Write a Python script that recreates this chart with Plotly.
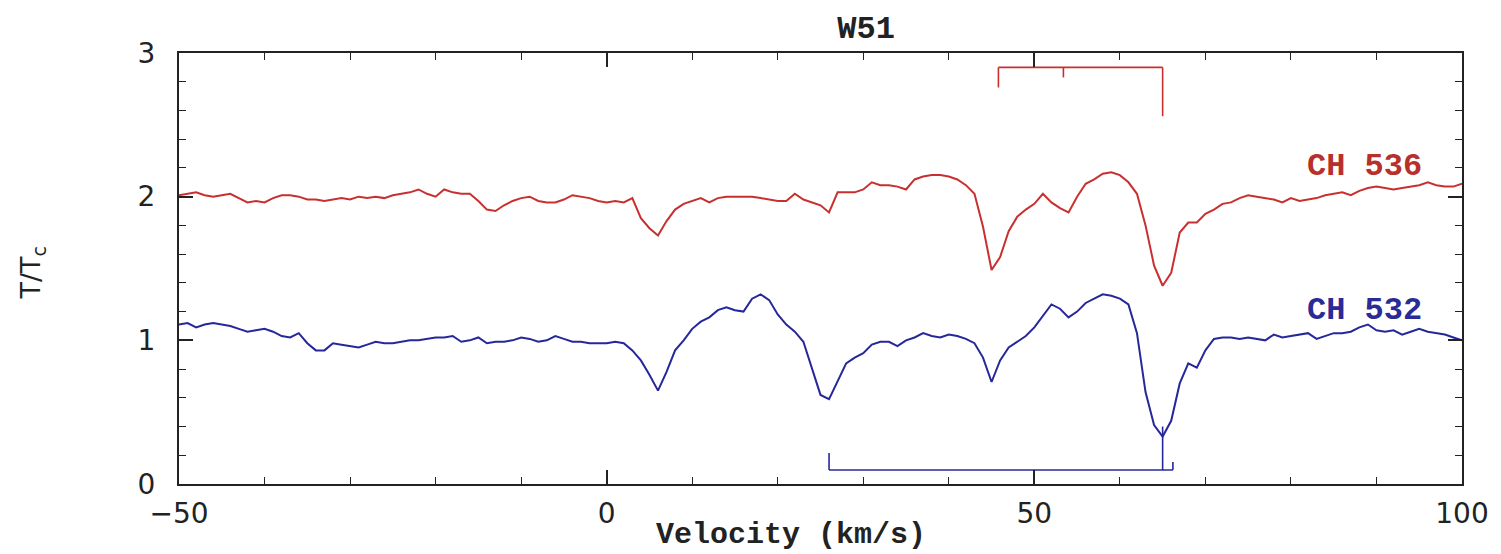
import plotly.graph_objects as go

# ---------------- data ----------------
velocity = list(range(-50, 101))

ch536 = [2.01, 2.02, 2.03, 2.01, 2.00, 2.01, 2.02, 1.99, 1.96, 1.97,   # -50..-41
         1.96, 1.99, 2.01, 2.01, 2.00, 1.98, 1.98, 1.97, 1.98, 1.99,   # -40..-31
         1.98, 2.00, 1.99, 2.00, 1.99, 2.01, 2.02, 2.03, 2.05, 2.02,   # -30..-21
         2.00, 2.05, 2.03, 2.02, 2.02, 1.97, 1.91, 1.90, 1.94, 1.97,   # -20..-11
         1.99, 2.00, 1.97, 1.96, 1.96, 1.98, 2.01, 2.00, 1.99, 1.97,   # -10..-1
         1.96, 1.97, 1.96, 1.99, 1.85, 1.78, 1.73, 1.83, 1.91, 1.95,   # 0..9
         1.97, 1.99, 1.96, 1.99, 2.00, 2.00, 2.00, 2.00, 1.99, 1.98,   # 10..19
         1.97, 1.97, 2.02, 1.98, 1.96, 1.94, 1.89, 2.03, 2.03, 2.03,   # 20..29
         2.05, 2.10, 2.08, 2.08, 2.07, 2.05, 2.12, 2.14, 2.15, 2.15,   # 30..39
         2.14, 2.12, 2.08, 2.02, 1.79, 1.49, 1.58, 1.76, 1.86, 1.91,   # 40..49
         1.95, 2.02, 1.96, 1.92, 1.89, 2.00, 2.09, 2.12, 2.16, 2.17,   # 50..59
         2.15, 2.10, 2.02, 1.80, 1.52, 1.38, 1.47, 1.75, 1.82, 1.82,   # 60..69
         1.88, 1.91, 1.95, 1.96, 1.99, 2.01, 2.00, 1.99, 1.98, 1.96,   # 70..79
         1.99, 1.97, 1.98, 1.99, 2.01, 2.02, 2.03, 2.01, 2.04, 2.06,   # 80..89
         2.07, 2.06, 2.05, 2.06, 2.07, 2.08, 2.10, 2.08, 2.07, 2.07,   # 90..99
         2.09]                                                         # 100

ch532 = [1.11, 1.12, 1.09, 1.11, 1.12, 1.11, 1.10, 1.08, 1.06, 1.07,   # -50..-41
         1.08, 1.06, 1.03, 1.02, 1.05, 0.98, 0.93, 0.93, 0.98, 0.97,   # -40..-31
         0.96, 0.95, 0.97, 0.99, 0.98, 0.98, 0.99, 1.00, 1.00, 1.01,   # -30..-21
         1.02, 1.02, 1.03, 0.99, 1.00, 1.02, 0.98, 0.99, 0.99, 1.00,   # -20..-11
         1.02, 1.01, 0.99, 1.00, 1.03, 1.01, 0.99, 0.99, 0.98, 0.98,   # -10..-1
         0.98, 0.99, 0.98, 0.93, 0.86, 0.76, 0.65, 0.78, 0.93, 1.00,   # 0..9
         1.08, 1.13, 1.16, 1.21, 1.23, 1.21, 1.20, 1.29, 1.32, 1.28,   # 10..19
         1.18, 1.11, 1.06, 0.99, 0.80, 0.62, 0.59, 0.72, 0.84, 0.88,   # 20..29
         0.91, 0.97, 0.99, 0.99, 0.96, 1.00, 1.02, 1.05, 1.03, 1.02,   # 30..39
         1.04, 1.03, 1.01, 0.98, 0.88, 0.71, 0.86, 0.95, 0.99, 1.03,   # 40..49
         1.09, 1.17, 1.25, 1.22, 1.16, 1.20, 1.26, 1.29, 1.32, 1.31,   # 50..59
         1.29, 1.25, 1.05, 0.64, 0.41, 0.33, 0.44, 0.70, 0.84, 0.81,   # 60..69
         0.93, 1.01, 1.02, 1.02, 1.01, 1.02, 1.01, 1.00, 1.04, 1.02,   # 70..79
         1.03, 1.04, 1.05, 1.01, 1.03, 1.05, 1.05, 1.06, 1.09, 1.11,   # 80..89
         1.07, 1.06, 1.07, 1.04, 1.06, 1.08, 1.06, 1.05, 1.04, 1.02,   # 90..99
         1.00]                                                         # 100

# velocity components marked by the brackets
red_components = [45.8, 53.4, 65.0]
red_bracket_top = 2.90
red_tick_ends = [2.76, 2.83, 2.56]

blue_components = [26.0, 65.0, 66.2]
blue_bracket_base = 0.097
blue_tick_ends = [0.216, 0.40, 0.153]

x_tickvals = [-50, 0, 50, 100]
x_ticktext = ["\u221250", "0", "50", "100"]
y_tickvals = [0, 1, 2, 3]

RED = "#c8302f"
BLUE = "#26279a"
AX = "#222222"

fig = go.Figure()

fig.add_trace(go.Scatter(x=velocity, y=ch536, mode="lines",
                         line=dict(color=RED, width=2), name="CH 536",
                         showlegend=False))
fig.add_trace(go.Scatter(x=velocity, y=ch532, mode="lines",
                         line=dict(color=BLUE, width=2), name="CH 532",
                         showlegend=False))

# red bracket (hanging from the top)
rx, ry = [red_components[0], red_components[-1]], [red_bracket_top, red_bracket_top]
for v, e in zip(red_components, red_tick_ends):
    rx += [None, v, v]
    ry += [None, red_bracket_top, e]
fig.add_trace(go.Scatter(x=rx, y=ry, mode="lines", line=dict(color=RED, width=1.6),
                         showlegend=False, hoverinfo="skip"))

# blue bracket (standing on the bottom)
bx = [blue_components[0], blue_components[-1]]
by = [blue_bracket_base, blue_bracket_base]
for v, e in zip(blue_components, blue_tick_ends):
    bx += [None, v, v]
    by += [None, blue_bracket_base, e]
fig.add_trace(go.Scatter(x=bx, y=by, mode="lines", line=dict(color=BLUE, width=1.6),
                         showlegend=False, hoverinfo="skip"))

label_font = dict(family="Liberation Mono", size=32, weight="bold")
fig.add_annotation(x=88.6, y=2.21, xref="x", yref="y", text="CH 536", showarrow=False,
                   font=dict(**label_font, color="#b8302c"), xanchor="center", yanchor="middle")
fig.add_annotation(x=88.6, y=1.21, xref="x", yref="y", text="CH 532", showarrow=False,
                   font=dict(**label_font, color="#2a2b96"), xanchor="center", yanchor="middle")

# axis titles as annotations for exact placement
fig.add_annotation(x=0.477, y=-0.118, xref="paper", yref="paper", text="Velocity (km/s)",
                   showarrow=False, font=dict(family="Liberation Mono", size=30, weight="bold",
                                              color=AX),
                   xanchor="center", yanchor="middle")
fig.add_annotation(x=-0.114, y=0.49, xref="paper", yref="paper", text="T/T<sub>c</sub>",
                   showarrow=False, textangle=-90,
                   font=dict(family="DejaVu Sans", size=27, color=AX),
                   xanchor="center", yanchor="middle")

axis_common = dict(showline=True, linecolor=AX, linewidth=2, mirror="allticks",
                   ticks="inside", ticklen=14, tickwidth=1.6, tickcolor=AX,
                   showgrid=False, zeroline=False,
                   tickfont=dict(family="DejaVu Sans", size=28, color=AX))

fig.update_xaxes(range=[-50, 100], tickvals=x_tickvals, ticktext=x_ticktext,
                 ticklabelstandoff=3,
                 minor=dict(dtick=10, tick0=0, ticks="inside", ticklen=7, tickwidth=1.4,
                            tickcolor=AX, showgrid=False),
                 **axis_common)
fig.update_yaxes(range=[0, 3], tickvals=y_tickvals, ticklabelstandoff=16,
                 minor=dict(dtick=0.2, tick0=0, ticks="inside", ticklen=7, tickwidth=1.4,
                            tickcolor=AX, showgrid=False),
                 **axis_common)

fig.update_layout(
    width=1501, height=554,
    margin=dict(l=179, r=39, t=53, b=70),
    paper_bgcolor="white", plot_bgcolor="white",
    title=dict(text="W51", x=0.577, xref="container", xanchor="center",
               y=0.951, yref="container", yanchor="middle",
               font=dict(family="Liberation Mono", size=32, weight="bold", color=AX)),
    showlegend=False,
)

fig.write_html("out.html", config={"displayModeBar": False},
               post_script="document.body.style.margin='0';document.body.style.overflow='hidden';")
